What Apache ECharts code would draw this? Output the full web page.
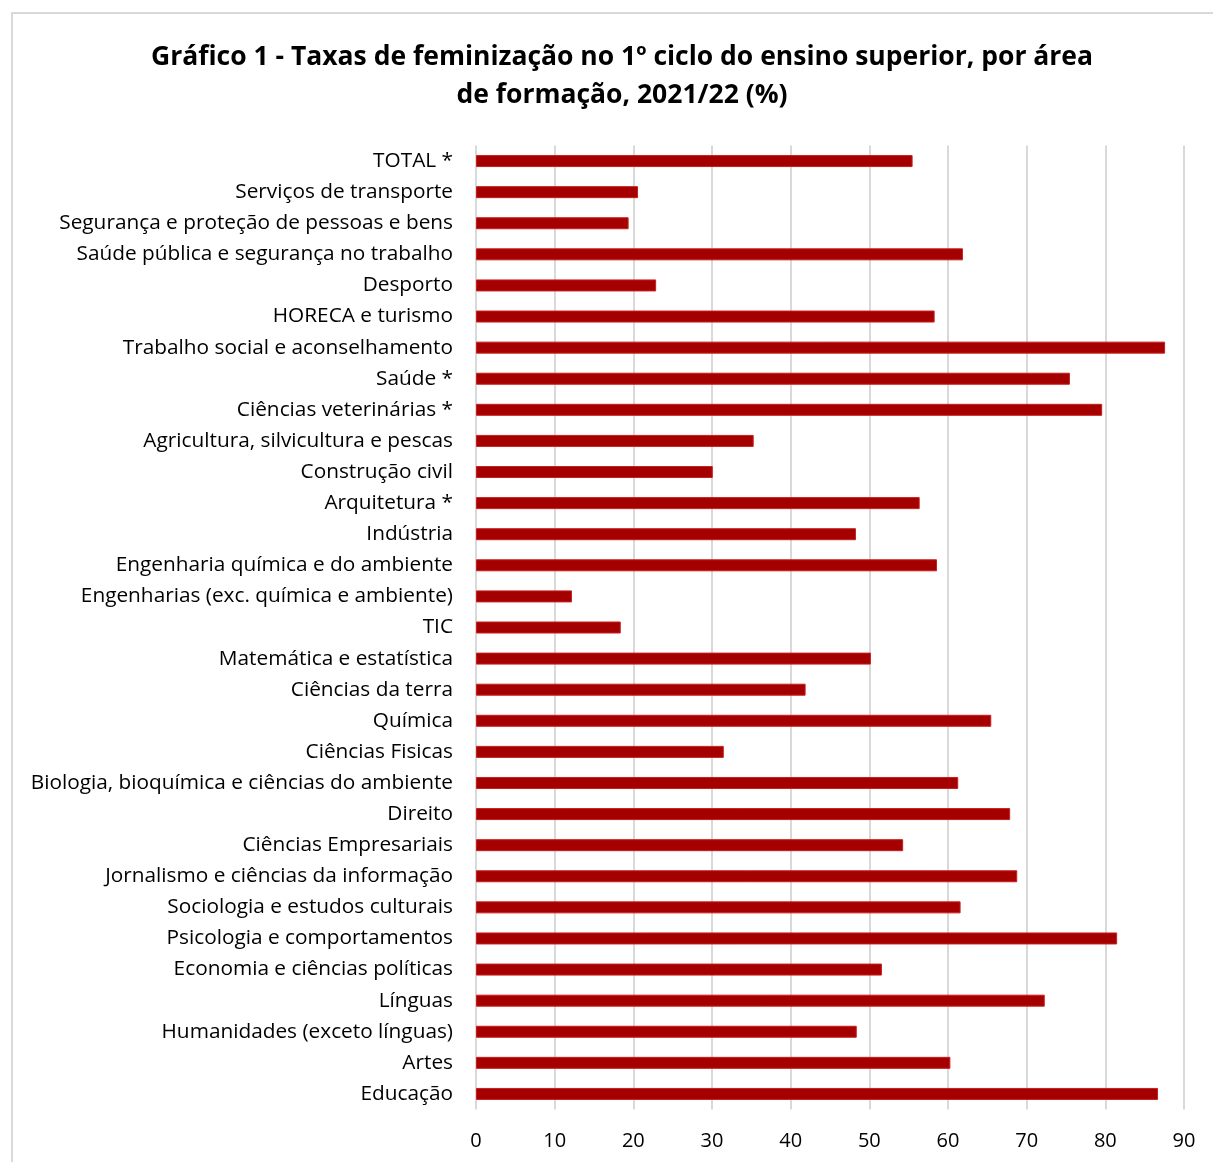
<!DOCTYPE html>
<html><head><meta charset="utf-8">
<script src="https://cdn.jsdelivr.net/npm/echarts@6/dist/echarts.min.js"></script>
<style>html,body{margin:0;padding:0;background:#fff}#c{width:1213px;height:1162px}</style>
</head><body><div id="c"></div>
<script>
const categories = [
 "TOTAL *","Serviços de transporte","Segurança e proteção de pessoas e bens","Saúde pública e segurança no trabalho",
 "Desporto","HORECA e turismo","Trabalho social e aconselhamento","Saúde *","Ciências veterinárias *",
 "Agricultura, silvicultura e pescas","Construção civil","Arquitetura *","Indústria","Engenharia química e do ambiente",
 "Engenharias (exc. química e ambiente)","TIC","Matemática e estatística","Ciências da terra","Química",
 "Ciências Fisicas","Biologia, bioquímica e ciências do ambiente","Direito","Ciências Empresariais",
 "Jornalismo e ciências da informação","Sociologia e estudos culturais","Psicologia e comportamentos",
 "Economia e ciências políticas","Línguas","Humanidades (exceto línguas)","Artes","Educação"
];
const values = [55.5,20.6,19.4,61.9,22.9,58.3,87.6,75.5,79.6,35.3,30.1,56.4,48.3,58.6,12.2,18.4,50.2,41.9,65.5,31.5,61.3,67.9,54.3,68.8,61.6,81.5,51.6,72.3,48.4,60.3,86.7];
const xTicks = {min:0, max:90, interval:10};
const titleText = "Gráfico 1 - Taxas de feminização no 1º ciclo do ensino superior, por área\nde formação, 2021/22 (%)";

const chart = echarts.init(document.getElementById('c'), null, {renderer:'canvas'});
chart.setOption({
  animation:false,
  backgroundColor:'#fff',
  graphic:[{type:'rect', shape:{x:12,y:13,width:1400,height:1400}, style:{fill:'none', stroke:'#d9d9d9', lineWidth:2}, z:-1}],
  title:{text:titleText, left:617, top:33, textAlign:'center',
    textStyle:{fontFamily:'Open Sans', fontWeight:'bold', fontSize:26.5, lineHeight:38, color:'#000'}},
  grid:{left:476, right:29, top:145.5, bottom:52.5, containLabel:false},
  xAxis:{type:'value', min:xTicks.min, max:xTicks.max, interval:xTicks.interval,
    axisLine:{show:false}, axisTick:{show:false},
    splitLine:{show:true, lineStyle:{color:'#d9d9d9', width:2}},
    axisLabel:{fontFamily:'Open Sans', fontSize:20, color:'#000', margin:22}},
  yAxis:{type:'category', data:categories, inverse:true,
    axisLine:{show:false}, axisTick:{show:false},
    axisLabel:{fontFamily:'Open Sans', fontSize:20.8, color:'#000', margin:23}},
  series:[{type:'bar', data:values, barWidth:12,
    itemStyle:{color:'#a50000', borderColor:'#c81e1e', borderWidth:1}}]
});
</script></body></html>
